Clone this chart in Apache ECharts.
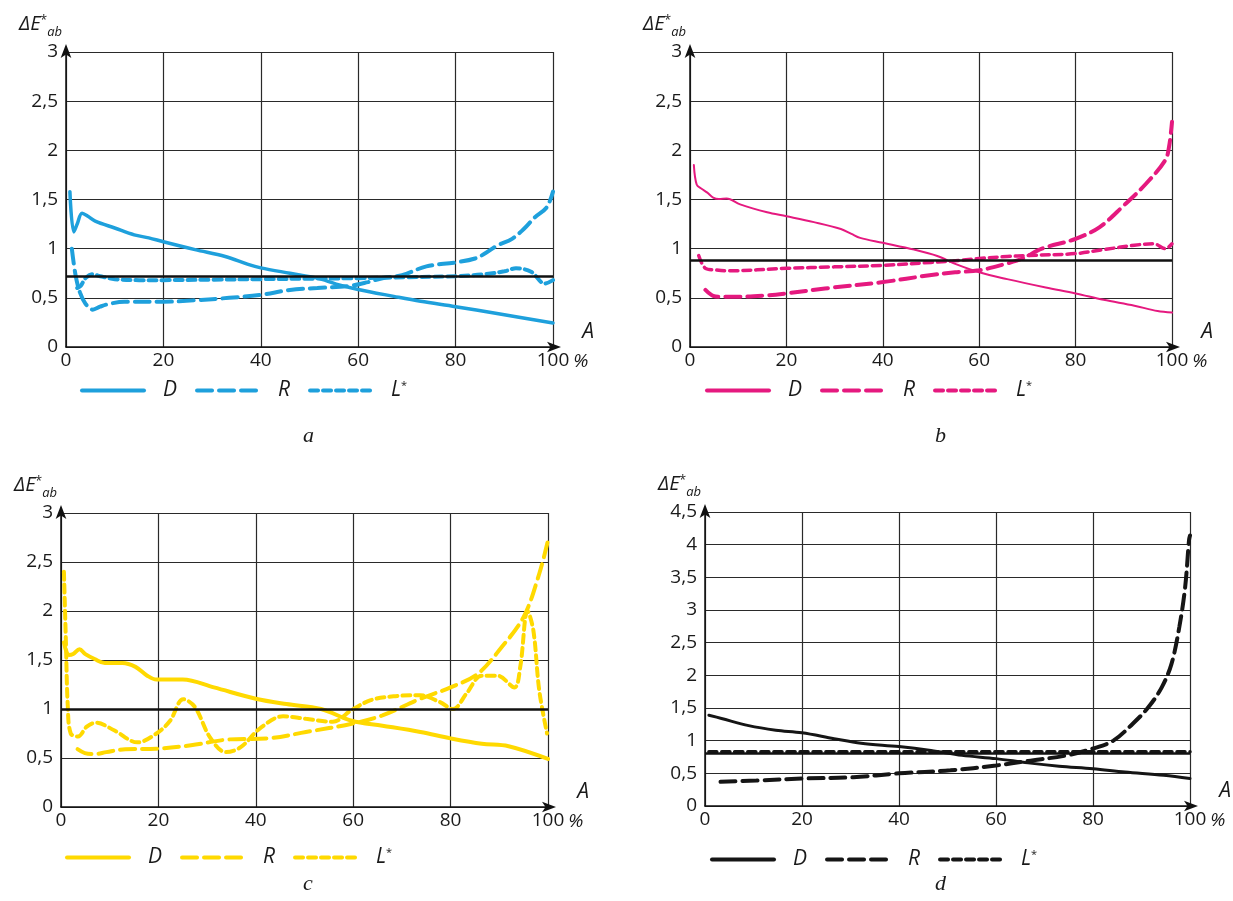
<!DOCTYPE html>
<html>
<head>
<meta charset="utf-8">
<script src="https://cdn.jsdelivr.net/npm/echarts@6/dist/echarts.min.js"></script>
<style>html,body{margin:0;padding:0;background:#fff;} #chart{width:1233px;height:901px;}</style>
</head>
<body>
<div id="chart"></div>
<script>
// panel a - [A %, dE]
var aD = [[0.8,1.58],[1.6,1.17],[2.3,1.25],[3.3,1.36],[4.5,1.33],[6,1.28],[10,1.21],[14,1.14],[17,1.11],[20,1.07],[26.5,0.99],[32.7,0.92],[37.4,0.84],[40,0.805],[46,0.75],[51.6,0.70],[55.5,0.64],[60,0.585],[67.3,0.515],[72.8,0.465],[80,0.41],[88.5,0.34],[100,0.245]];
var aR = [[1.2,1.0],[2,0.72],[2.9,0.55],[4,0.44],[5.5,0.38],[7,0.41],[9,0.44],[12,0.46],[20,0.46],[26.5,0.475],[33.5,0.5],[40,0.53],[46,0.58],[51.6,0.6],[58,0.62],[62,0.66],[65,0.7],[69,0.73],[74,0.82],[80,0.86],[84,0.9],[86,0.95],[88.5,1.03],[91.6,1.1],[94,1.2],[96.3,1.32],[98.7,1.42],[100,1.58]];
var aL = [[2.3,0.6],[3,0.62],[4,0.7],[5.5,0.74],[7,0.72],[10,0.69],[15,0.68],[20,0.68],[30,0.685],[40,0.69],[50,0.695],[60,0.7],[70,0.71],[80,0.72],[86,0.74],[90,0.77],[92.4,0.8],[95.5,0.765],[98.3,0.645],[100,0.68]];
// panel b
var bD = [[0.8,1.85],[1.4,1.65],[2.4,1.61],[3.6,1.57],[4.8,1.52],[6,1.505],[7.6,1.51],[10.4,1.45],[16,1.37],[20,1.33],[25.7,1.27],[31.3,1.2],[33.5,1.15],[35.3,1.11],[40,1.06],[46.5,0.99],[51.3,0.925],[55.3,0.84],[60,0.76],[65.8,0.69],[73.8,0.605],[80,0.545],[85.8,0.48],[92.2,0.42],[97,0.365],[100,0.35]];
var bR = [[3.2,0.58],[4.8,0.52],[6.5,0.51],[9.6,0.51],[16,0.525],[20,0.545],[28,0.595],[40,0.66],[49.7,0.73],[55,0.76],[60,0.78],[65.8,0.85],[69,0.9],[73,1.0],[80,1.1],[85,1.22],[89.8,1.43],[94.6,1.66],[98.6,1.9],[99.4,2.04],[100,2.29]];
var bL = [[1.8,0.93],[3.2,0.8],[5,0.785],[8,0.775],[20,0.8],[30,0.815],[40,0.83],[50,0.86],[54.5,0.875],[60,0.9],[65.8,0.92],[70,0.93],[80,0.95],[85.8,0.99],[92.2,1.035],[96.2,1.05],[98.6,1.0],[100,1.05]];
// panel c
var cD = [[0.6,1.68],[1.6,1.55],[2.5,1.56],[3.8,1.61],[5,1.56],[6.9,1.51],[9,1.47],[12.6,1.47],[15.3,1.43],[17.7,1.34],[19.6,1.30],[25,1.30],[31.4,1.22],[40,1.105],[46.3,1.05],[53.4,1.0],[59.7,0.88],[66,0.83],[73.8,0.765],[80,0.70],[86.4,0.645],[91.9,0.62],[100,0.49]];
var cR = [[3.4,0.59],[4.9,0.55],[6.9,0.54],[9.3,0.56],[13.2,0.59],[19.6,0.595],[26.7,0.63],[34.6,0.69],[42.4,0.70],[50.3,0.765],[59.7,0.85],[66,0.935],[73.8,1.105],[80,1.22],[85.6,1.36],[90.3,1.62],[95,1.94],[98.2,2.38],[100,2.72]];
var cL = [[0.6,2.40],[1.0,1.7],[1.4,1.02],[2,0.75],[3.5,0.72],[5.3,0.82],[7.2,0.86],[11,0.78],[15.7,0.66],[19.6,0.75],[22.4,0.88],[25.1,1.1],[27.5,1.02],[30.6,0.71],[33.8,0.56],[36.9,0.61],[40.8,0.8],[45.6,0.925],[50.3,0.9],[55.8,0.87],[59.7,0.99],[63.6,1.09],[68.3,1.13],[73.8,1.14],[77.8,1.07],[80.5,1.0],[83.3,1.16],[86.4,1.34],[89.6,1.34],[93.1,1.22],[94.3,1.43],[95.8,2.0],[97,1.80],[98.2,1.19],[99.8,0.75]];
// panel d
var dD = [[0.8,1.39],[3.4,1.34],[9,1.23],[14.6,1.16],[20,1.12],[26.6,1.03],[32.2,0.96],[40,0.91],[46.6,0.85],[53,0.775],[60,0.725],[66.6,0.66],[73,0.61],[80,0.57],[86.6,0.52],[94.6,0.47],[100,0.42]];
var dR = [[3.2,0.37],[10.6,0.39],[20,0.42],[30.6,0.44],[40,0.5],[50.6,0.546],[60,0.62],[66.6,0.69],[74.6,0.775],[80,0.88],[84.2,1.0],[88.2,1.26],[91.4,1.51],[94.2,1.82],[96.2,2.18],[97.8,2.74],[99,3.35],[99.8,4.07],[100,4.14]];
var dL = [[0.8,0.83],[20,0.83],[40,0.83],[60,0.83],[80,0.83],[100,0.83]];

var means = [0.72, 0.88, 1.0, 0.81];   // horizontal black line per panel
var yMax = [3, 3, 3, 4.5];
var captions = ['a', 'b', 'c', 'd'];
var colors = ['#1ea0dc', '#e5197f', '#ffd900', '#151515'];

var FONT = '"Open Sans", sans-serif';
var INK = '#1a1a1a';
var grids = [
	{left: 66, top: 52, width: 487, height: 295},
	{left: 690, top: 52, width: 482, height: 295},
	{left: 61, top: 513, width: 487, height: 294},
	{left: 705, top: 512, width: 485, height: 294}
];
var legendPos = [[75, 375], [700, 375], [60, 842], [705, 844]];
var captionPos = [[298, 420], [930, 420], [298, 868], [930, 868]];

var sets = [[aD, aR, aL], [bD, bR, bL], [cD, cR, cL], [dD, dR, dL]];
var widths = [[3.5, 4, 4], [2, 4, 3.5], [4, 4, 4], [3, 4, 3.5]];
var kinds = ['D', 'R', 'L'];
var dashes = ['solid', [15, 7], [8, 5]];

var axisLine = {show: true, symbol: ['none', 'arrow'], symbolSize: [8, 14], symbolOffset: [0, 8], lineStyle: {color: '#111', width: 1.5}};
var split = {show: true, lineStyle: {color: '#2a2a2a', width: 1.2}};
var comma = function (v) { return String(v).replace('.', ','); };

var xAxis = [], yAxis = [], series = [], legend = [], title = [];
for (var i = 0; i < 4; i++) {
	xAxis.push({type: 'value', gridIndex: i, min: 0, max: 100, interval: 20,
		axisLine: axisLine, axisTick: {show: false}, splitLine: split,
		axisLabel: {fontSize: 19, color: INK, margin: 4, fontFamily: FONT},
		name: '{a|A}\n{p|%}', nameLocation: 'end', nameGap: 17,
		nameTextStyle: {rich: {
			a: {fontSize: 21, fontStyle: 'italic', color: INK, fontFamily: FONT, padding: [0, 0, 0, 9], lineHeight: 30},
			p: {fontSize: 19, fontStyle: 'italic', color: INK, fontFamily: FONT, lineHeight: 30}
		}}
	});
	yAxis.push({type: 'value', gridIndex: i, min: 0, max: yMax[i], interval: 0.5,
		axisLine: axisLine, axisTick: {show: false}, splitLine: split,
		axisLabel: {fontSize: 19, color: INK, margin: 8, fontFamily: FONT, formatter: comma},
		name: '{e|ΔE}{s|*}{b|ab}', nameLocation: 'end', nameGap: 10,
		nameTextStyle: {align: 'right', verticalAlign: 'bottom', padding: [0, 4, 0, 0], rich: {
			e: {fontSize: 20, fontStyle: 'italic', color: INK, fontFamily: FONT, lineHeight: 24, padding: [0, 0, 8, 0], verticalAlign: 'top'},
			s: {fontSize: 12, color: INK, fontFamily: FONT, verticalAlign: 'top', lineHeight: 16},
			b: {fontSize: 13, fontStyle: 'italic', color: INK, fontFamily: FONT, verticalAlign: 'bottom', lineHeight: 16}
		}}
	});
	var names = [];
	for (var k = 0; k < 3; k++) {
		var nm = kinds[k] + '_' + captions[i];
		names.push(nm);
		var s = {name: nm, type: 'line', xAxisIndex: i, yAxisIndex: i, data: sets[i][k],
			smooth: 0.35, symbol: 'none', color: colors[i],
			lineStyle: {color: colors[i], width: widths[i][k], type: dashes[k], cap: 'round'}};
		if (k == 0) {
			s.markLine = {silent: true, symbol: 'none', label: {show: false}, animation: false,
				lineStyle: {color: '#111', type: 'solid', width: 2.5}, data: [{yAxis: means[i]}]};
		}
		series.push(s);
	}
	legend.push({left: legendPos[i][0], top: legendPos[i][1], data: names, selectedMode: false,
		itemWidth: 62, itemHeight: 16, itemGap: 18,
		itemStyle: {opacity: 0}, lineStyle: {width: 4},
		formatter: function (n) { return n.charAt(0) == 'L' ? '{t|L}{s|*}' : '{t|' + n.charAt(0) + '}'; },
		textStyle: {rich: {
			t: {fontSize: 21, fontStyle: 'italic', color: INK, fontFamily: FONT, padding: [0, 0, 0, 14]},
			s: {fontSize: 11, color: INK, fontFamily: FONT, verticalAlign: 'top'}
		}}
	});
	title.push({text: captions[i], left: captionPos[i][0], top: captionPos[i][1],
		textStyle: {fontFamily: '"Liberation Serif", serif', fontStyle: 'italic', fontWeight: 'normal', fontSize: 22, color: INK}});
}

var chart = echarts.init(document.getElementById('chart'));
chart.setOption({animation: false, title: title, grid: grids, xAxis: xAxis, yAxis: yAxis, legend: legend, series: series});
</script>
</body>
</html>
